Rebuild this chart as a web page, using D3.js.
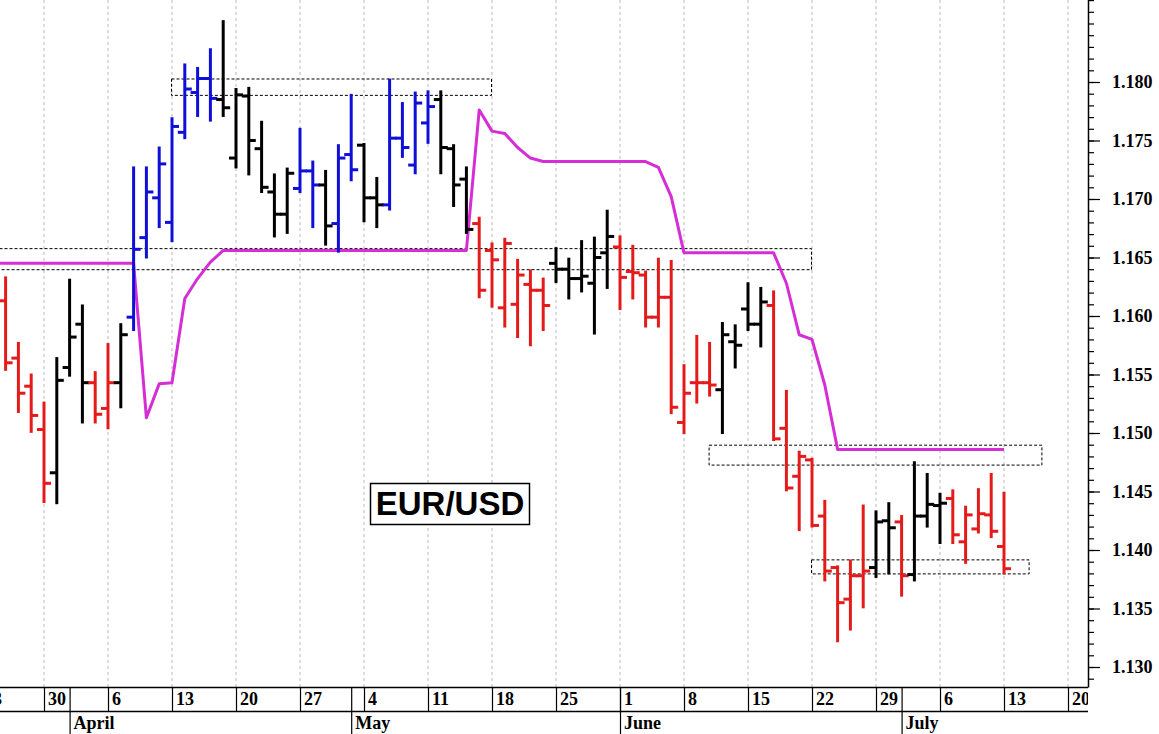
<!DOCTYPE html>
<html>
<head>
<meta charset="utf-8">
<script src="https://cdn.jsdelivr.net/npm/d3@7/dist/d3.min.js"></script>
<style>
  body { margin: 0; background: #fff; }
  svg { display: block; }
</style>
</head>
<body>
<script>

// daily bars, 25 Mar - 13 Jul (weekdays)
var firstBar = "2020-03-25", lastBar = "2020-07-13";

var opens = [
  1.1613, 1.1564, 1.1540,
  1.1503, 1.1466, 1.1556, 1.1593, 1.1543,
  1.1521, 1.1543, 1.1599, 1.1667, 1.1701,
  1.1680, 1.1757, 1.1791, 1.1803, 1.1785,
  1.1735, 1.1788, 1.1743, 1.1706, 1.1687,
  1.1709, 1.1724, 1.1712, 1.1679, 1.1738,
  1.1746, 1.1701, 1.1695, 1.1752, 1.1729,
  1.1765, 1.1785, 1.1743, 1.1717, 1.1679,
  1.1656, 1.1607, 1.1610, 1.1627, 1.1622,
  1.1645, 1.1640, 1.1632, 1.1628, 1.1654,
  1.1659, 1.1638, 1.1635, 1.1599, 1.1616,
  1.1509, 1.1543, 1.1543, 1.1537, 1.1578,
  1.1606, 1.1593, 1.1609, 1.1504, 1.1463,
  1.1477, 1.1429, 1.1385, 1.1358, 1.1378,
  1.1385, 1.1425, 1.1424, 1.1379, 1.1429,
  1.1438, 1.1444, 1.1407, 1.1418, 1.1430,
  1.1403
];
var highs = [
  1.1633, 1.1577, 1.1550,
  1.1526, 1.1564, 1.1631, 1.1609, 1.1552,
  1.1576, 1.1593, 1.1727, 1.1727, 1.1744,
  1.1769, 1.1815, 1.1812, 1.1828, 1.1852,
  1.1794, 1.1795, 1.1766, 1.1721, 1.1726,
  1.1760, 1.1732, 1.1724, 1.1746, 1.1789,
  1.1747, 1.1718, 1.1802, 1.1782, 1.1791,
  1.1792, 1.1792, 1.1746, 1.1727, 1.1684,
  1.1662, 1.1666, 1.1648, 1.1639, 1.1632,
  1.1658, 1.1649, 1.1664, 1.1667, 1.1690,
  1.1668, 1.1660, 1.1638, 1.1649, 1.1647,
  1.1558, 1.1583, 1.1577, 1.1594, 1.1592,
  1.1628, 1.1624, 1.1621, 1.1536, 1.1484,
  1.1478, 1.1442, 1.1386, 1.1391, 1.1438,
  1.1433, 1.1440, 1.1429, 1.1475, 1.1465,
  1.1448, 1.1451, 1.1437, 1.1452, 1.1465,
  1.1449
];
var lows = [
  1.1554, 1.1518, 1.1501,
  1.1441, 1.1440, 1.1549, 1.1509, 1.1509,
  1.1504, 1.1522, 1.1588, 1.1650, 1.1676,
  1.1664, 1.1752, 1.1771, 1.1767, 1.1771,
  1.1727, 1.1721, 1.1706, 1.1668, 1.1671,
  1.1706, 1.1676, 1.1661, 1.1655, 1.1716,
  1.1681, 1.1676, 1.1691, 1.1736, 1.1722,
  1.1748, 1.1722, 1.1694, 1.1671, 1.1616,
  1.1608, 1.1591, 1.1582, 1.1575, 1.1588,
  1.1629, 1.1615, 1.1621, 1.1585, 1.1624,
  1.1606, 1.1615, 1.1591, 1.1591, 1.1517,
  1.1500, 1.1526, 1.1532, 1.1500, 1.1556,
  1.1588, 1.1574, 1.1494, 1.1451, 1.1417,
  1.1420, 1.1374, 1.1322, 1.1332, 1.1351,
  1.1377, 1.1380, 1.1361, 1.1374, 1.1420,
  1.1406, 1.1406, 1.1389, 1.1415, 1.1411,
  1.1380
];
var closes = [
  1.1560, 1.1534, 1.1515,
  1.1457, 1.1545, 1.1582, 1.1543, 1.1516,
  1.1543, 1.1584, 1.1657, 1.1706, 1.1730,
  1.1762, 1.1794, 1.1803, 1.1786, 1.1778,
  1.1789, 1.1750, 1.1710, 1.1687, 1.1722,
  1.1724, 1.1712, 1.1677, 1.1735, 1.1725,
  1.1701, 1.1695, 1.1752, 1.1744, 1.1782,
  1.1779, 1.1744, 1.1712, 1.1674, 1.1622,
  1.1648, 1.1662, 1.1635, 1.1622, 1.1609,
  1.1640, 1.1632, 1.1634, 1.1650, 1.1668,
  1.1633, 1.1637, 1.1599, 1.1616, 1.1522,
  1.1534, 1.1543, 1.1541, 1.1584, 1.1575,
  1.1593, 1.1612, 1.1495, 1.1453, 1.1480,
  1.1421, 1.1382, 1.1355, 1.1378, 1.1382,
  1.1424, 1.1419, 1.1378, 1.1429, 1.1439,
  1.1440, 1.1413, 1.1430, 1.1431, 1.1416,
  1.1384
];
// trend state of each bar: d = down, n = neutral, u = up
var trend = [
  "d","d","d",
  "d","n","n","n","d",
  "d","n","u","u","u",
  "u","u","u","u","n",
  "n","n","n","n","n",
  "u","u","n","u","u",
  "n","n","u","u","u",
  "u","n","n","n","d",
  "d","d","d","d","d",
  "n","n","n","n","n",
  "d","d","d","d","d",
  "d","d","d","n","n",
  "n","n","d","d","d",
  "d","d","d","d","d",
  "n","n","d","n","n",
  "n","d","d","d","d",
  "d"
];

// trailing stop line, one value per weekday from 24 Mar to 13 Jul
var stopStart = "2020-03-24";
var stopValues = [
  1.1645, 1.1645, 1.1645, 1.1645, 1.1645, 1.1645, 1.1645, 1.1645, 1.1645, 1.1645, 1.1645, 1.1645,
  1.1513, 1.1542, 1.1543, 1.1615, 1.1632, 1.1646, 1.1656,
  1.1656, 1.1656, 1.1656, 1.1656, 1.1656, 1.1656, 1.1656, 1.1656, 1.1656, 1.1656,
  1.1656, 1.1656, 1.1656, 1.1656, 1.1656, 1.1656, 1.1656, 1.1656, 1.1656,
  1.1776, 1.1758, 1.1756, 1.1744, 1.1735, 1.1732,
  1.1732, 1.1732, 1.1732, 1.1732, 1.1732, 1.1732, 1.1732, 1.1732,
  1.1727, 1.1702, 1.1654,
  1.1654, 1.1654, 1.1654, 1.1654, 1.1654, 1.1654, 1.1654,
  1.1628, 1.1584, 1.1580, 1.1541, 1.1486,
  1.1486, 1.1486, 1.1486, 1.1486, 1.1486, 1.1486, 1.1486, 1.1486, 1.1486, 1.1486, 1.1486, 1.1486, 1.1486
];

// dotted zones
var zoneFrom = ["2020-04-13", "2020-03-23", "2020-06-10", "2020-06-22"];
var zoneTo   = ["2020-05-18", "2020-06-22", "2020-07-16", "2020-07-15"];
var zoneLow  = [1.1789, 1.1640, 1.1473, 1.1380];
var zoneHigh = [1.1803, 1.1658, 1.1490, 1.1392];

var monthStarts = ["2020-04-01", "2020-05-01", "2020-06-01", "2020-07-01"];
var monthNames  = ["April", "May", "June", "July"];
var title = "EUR/USD";


var W = 1159, H = 734;
var plotRight = 1088, plotBottom = 687, rowMid = 711;
var colors = { d: "#e31b1b", n: "#000000", u: "#0f0fd8" };
var serif = "'Liberation Serif', 'Times New Roman', serif";

var parse = d3.timeParse("%Y-%m-%d");
var origin = parse("2020-03-23");

// position on the weekday axis (weekends skipped)
function dayIndex(date) {
  var d = d3.timeDay.count(origin, date);
  return Math.floor(d / 7) * 5 + (d % 7);
}
function weekdays(from, count) {
  var out = [], d = from;
  while (out.length < count) {
    if (d.getDay() !== 0 && d.getDay() !== 6) out.push(d);
    d = d3.timeDay.offset(d, 1);
  }
  return out;
}

var barDates = weekdays(parse(firstBar), opens.length);
var stopDates = weekdays(parse(stopStart), stopValues.length);

var bars = barDates.map(function (d, i) {
  return { i: dayIndex(d), o: opens[i], h: highs[i], l: lows[i], c: closes[i], t: trend[i] };
});

var x = d3.scaleLinear().domain([0, 85]).range([-20, 1068]);
var y = d3.scaleLinear().domain([1.130, 1.180]).range([667, 82]);

var svg = d3.select("body").append("svg")
  .attr("width", W).attr("height", H)
  .style("background", "#fff");

svg.append("defs").append("clipPath").attr("id", "plotClip")
  .append("rect").attr("x", 0).attr("y", 0).attr("width", plotRight).attr("height", H);

var plot = svg.append("g").attr("clip-path", "url(#plotClip)");

// weekly grid lines on Mondays
var mondays = d3.timeMonday.range(origin, parse("2020-07-21"));
plot.append("g").selectAll("line").data(mondays).join("line")
  .attr("x1", function (d) { return x(dayIndex(d)); })
  .attr("x2", function (d) { return x(dayIndex(d)); })
  .attr("y1", 0).attr("y2", plotBottom)
  .attr("stroke", "#b8b8b8").attr("stroke-width", 1)
  .attr("stroke-dasharray", "3,3");

// zones
plot.append("g").selectAll("rect").data(zoneFrom).join("rect")
  .attr("x", function (d, i) { return x(dayIndex(parse(zoneFrom[i]))) - 0.5; })
  .attr("width", function (d, i) { return x(dayIndex(parse(zoneTo[i]))) - x(dayIndex(parse(zoneFrom[i]))); })
  .attr("y", function (d, i) { return y(zoneHigh[i]) + 0.5; })
  .attr("height", function (d, i) { return y(zoneLow[i]) - y(zoneHigh[i]); })
  .attr("fill", "none").attr("stroke", "#000").attr("stroke-width", 1)
  .attr("stroke-dasharray", "3,2");

// stop line
var stopLine = d3.line()
  .x(function (d) { return x(dayIndex(d)); })
  .y(function (d, i) { return y(stopValues[i]); });
plot.append("path").datum(stopDates)
  .attr("d", stopLine)
  .attr("fill", "none").attr("stroke", "#d52ed5")
  .attr("stroke-width", 3).attr("stroke-linejoin", "round");

// OHLC bars
var barG = plot.append("g").selectAll("g").data(bars).join("g")
  .attr("stroke", function (d) { return colors[d.t]; })
  .attr("stroke-width", 3);
barG.append("line")
  .attr("x1", function (d) { return x(d.i); }).attr("x2", function (d) { return x(d.i); })
  .attr("y1", function (d) { return y(d.h) - 1; }).attr("y2", function (d) { return y(d.l) + 1; });
barG.append("line")
  .attr("x1", function (d) { return x(d.i) - 7; }).attr("x2", function (d) { return x(d.i); })
  .attr("y1", function (d) { return y(d.o); }).attr("y2", function (d) { return y(d.o); });
barG.append("line")
  .attr("x1", function (d) { return x(d.i); }).attr("x2", function (d) { return x(d.i) + 7; })
  .attr("y1", function (d) { return y(d.c); }).attr("y2", function (d) { return y(d.c); });

// title box
var tb = svg.append("g");
tb.append("rect").attr("x", 370.5).attr("y", 483.5).attr("width", 159).attr("height", 41)
  .attr("fill", "#fff").attr("stroke", "#000").attr("stroke-width", 1.5);
tb.append("text").attr("x", 450).attr("y", 515).attr("text-anchor", "middle")
  .style("font-family", "'Liberation Sans', Arial, sans-serif")
  .style("font-weight", "bold").style("font-size", "33px")
  .text(title);

// right price axis
var minorTicks = d3.range(1129, 1188).map(function (v) { return v / 1000; });
var majorTicks = d3.range(1130, 1181, 5).map(function (v) { return v / 1000; });

var yMinor = svg.append("g").attr("transform", "translate(" + plotRight + ",0)")
  .call(d3.axisRight(y).tickValues(minorTicks).tickSize(6).tickFormat(""));
var yMajor = svg.append("g").attr("transform", "translate(" + plotRight + ",0)")
  .call(d3.axisRight(y).tickValues(majorTicks).tickSize(12).tickPadding(12).tickFormat(d3.format(".3f")));
[yMinor, yMajor].forEach(function (g) {
  g.select(".domain").remove();
  g.selectAll(".tick line").attr("stroke", "#000").attr("stroke-width", 1.2);
});
yMajor.selectAll(".tick text")
  .style("font-family", serif).style("font-weight", "bold").style("font-size", "18px")
  .attr("fill", "#000");

svg.append("line").attr("x1", plotRight + 0.5).attr("x2", plotRight + 0.5)
  .attr("y1", 0).attr("y2", plotBottom + 0.5)
  .attr("stroke", "#000").attr("stroke-width", 1.5);

// date rows
var dateAxis = svg.append("g").attr("clip-path", "url(#plotClip)");
[plotBottom, rowMid].forEach(function (yy) {
  dateAxis.append("line").attr("x1", 0).attr("x2", plotRight)
    .attr("y1", yy + 0.5).attr("y2", yy + 0.5)
    .attr("stroke", "#000").attr("stroke-width", 1.5);
});
dateAxis.selectAll("line.wk").data(mondays).join("line").attr("class", "wk")
  .attr("x1", function (d) { return x(dayIndex(d)) + 0.5; })
  .attr("x2", function (d) { return x(dayIndex(d)) + 0.5; })
  .attr("y1", plotBottom).attr("y2", rowMid)
  .attr("stroke", "#000").attr("stroke-width", 1.2);
dateAxis.selectAll("text.wk").data(mondays).join("text").attr("class", "wk")
  .attr("x", function (d) { return x(dayIndex(d)) + 4; })
  .attr("y", 705)
  .style("font-family", serif).style("font-weight", "bold").style("font-size", "18px")
  .text(d3.timeFormat("%-d"));

dateAxis.selectAll("line.mo").data(monthStarts).join("line").attr("class", "mo")
  .attr("x1", function (d) { return x(dayIndex(parse(d))) + 0.5; })
  .attr("x2", function (d) { return x(dayIndex(parse(d))) + 0.5; })
  .attr("y1", plotBottom).attr("y2", H)
  .attr("stroke", "#000").attr("stroke-width", 1.2);
dateAxis.selectAll("text.mo").data(monthStarts).join("text").attr("class", "mo")
  .attr("x", function (d) { return x(dayIndex(parse(d))) + 4; })
  .attr("y", 729)
  .style("font-family", serif).style("font-weight", "bold").style("font-size", "18px")
  .text(function (d, i) { return monthNames[i]; });

</script>
</body>
</html>
